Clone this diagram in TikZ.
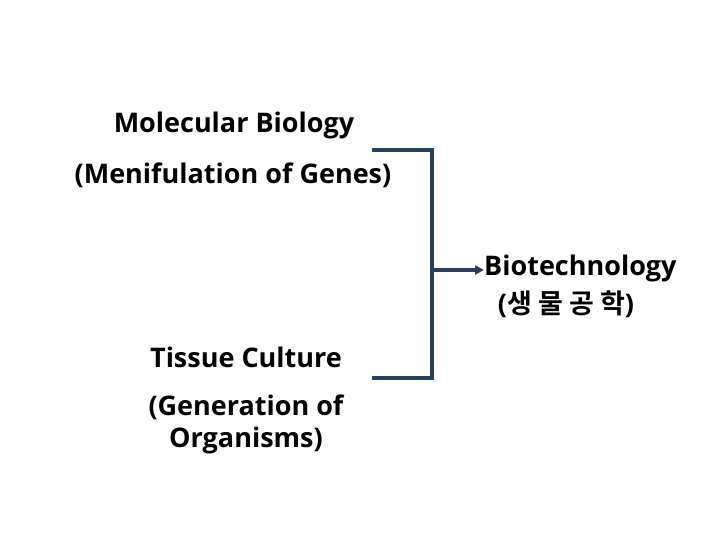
\documentclass[tikz,border=0pt]{standalone}
\usepackage{fontspec}
\setmainfont{Open Sans}
\newfontfamily\krfont{Noto Sans CJK KR}[BoldFont={Noto Sans CJK KR Bold}]
\usetikzlibrary{arrows.meta}
\definecolor{bracketblue}{RGB}{37,64,97}
\begin{document}
\begin{tikzpicture}[x=1pt,y=-1pt,
  lbl/.style={font=\fontsize{27}{30}\selectfont\bfseries, inner sep=0pt, anchor=center},
  conn/.style={draw=bracketblue, line width=3.5pt},
  arr/.style={conn, -{Triangle[length=9pt,width=9pt]}}]
\useasboundingbox (0,0) rectangle (720,540);
\node[lbl] (mol) at (234,125) {Molecular Biology};
\node[lbl] (gen) at (233,175) {(Menifulation of Genes)};
\node[lbl] (tis) at (246,357) {Tissue Culture};
\node[lbl] (gor1) at (246,407) {(Generation of};
\node[lbl] (gor2) at (246,440) {Organisms)};
\node[lbl, anchor=west] (bio) at (484,268) {Biotechnology};
\node[lbl] (kor) at (566,304) {({\krfont\bfseries 생 물 공 학})};
\coordinate (t1) at (372,150);
\coordinate (t2) at (432,150);
\coordinate (b1) at (372,378);
\coordinate (b2) at (432,378);
\coordinate (m) at (432,270);
\draw[conn] (t1) -- (t2) -- (b2) -- (b1);
\draw[arr] (m) -- (m -| bio.west);
\end{tikzpicture}
\end{document}
